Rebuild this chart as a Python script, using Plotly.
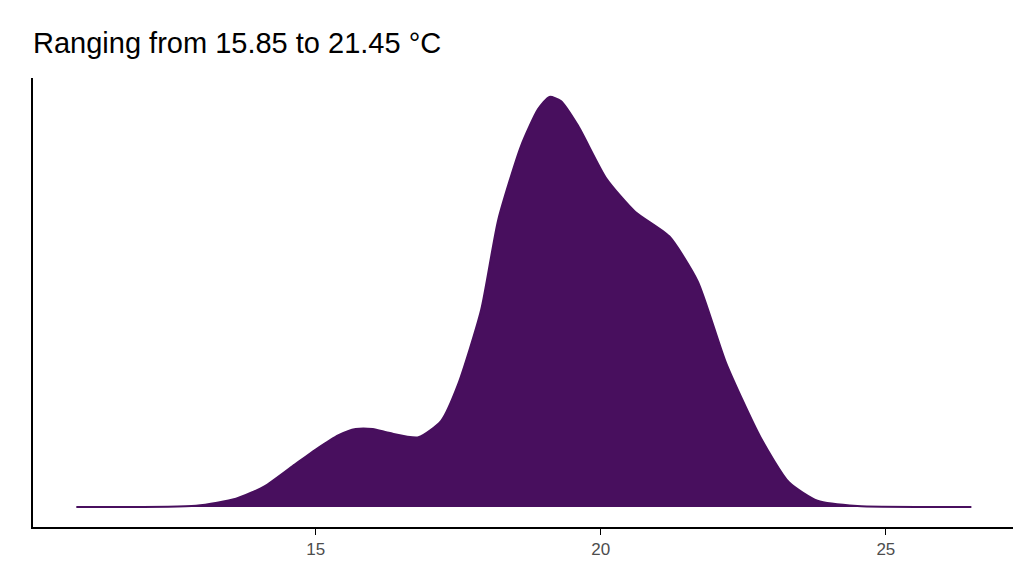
import plotly.graph_objects as go

# density curve (temperature °C, relative density)
temp = [10.8, 12.9, 13.6, 14.1, 14.6, 15.0, 15.4, 15.7, 16.0, 16.3, 16.8, 17.2, 17.5,
        17.9, 18.2, 18.6, 18.9, 19.1, 19.3, 19.6, 20.1, 20.6, 21.2, 21.7, 22.2,
        22.8, 23.3, 23.8, 24.5, 26.5]
density = [0.0, 0.003, 0.02, 0.05, 0.10, 0.14, 0.175, 0.19, 0.19, 0.18, 0.17, 0.21, 0.30,
           0.48, 0.70, 0.88, 0.97, 1.0, 0.99, 0.93, 0.80, 0.72, 0.66, 0.55, 0.35,
           0.17, 0.06, 0.015, 0.002, 0.0]

fig = go.Figure(go.Scatter(
    x=temp, y=density, mode="lines", line=dict(color="#480F5E", width=2, shape="spline", smoothing=0.6),
    fill="tozeroy", fillcolor="#480F5E", hoverinfo="skip"))

fig.update_layout(
    width=1024, height=576, plot_bgcolor="white", paper_bgcolor="white",
    margin=dict(l=25, r=19, t=70, b=57), showlegend=False,
    title=dict(text="Ranging from 15.85 to 21.45 °C", x=25/1024, xanchor="left",
               y=1-35/576, yanchor="middle",
               font=dict(family="Liberation Sans, Arial", size=29, color="black")),
    xaxis=dict(range=[10.04, 27.23], tickvals=[15, 20, 25], showgrid=False, zeroline=False,
               showline=True, linecolor="black", linewidth=2, ticks="outside", ticklen=6,
               tickcolor="black", tickfont=dict(family="Liberation Sans, Arial", size=17, color="#4d4d4d")),
    yaxis=dict(range=[-0.049, 1.046], showticklabels=False, showgrid=False, zeroline=False,
               showline=True, linecolor="black", linewidth=2, ticks=""),
)

fig.write_html("out.html")
